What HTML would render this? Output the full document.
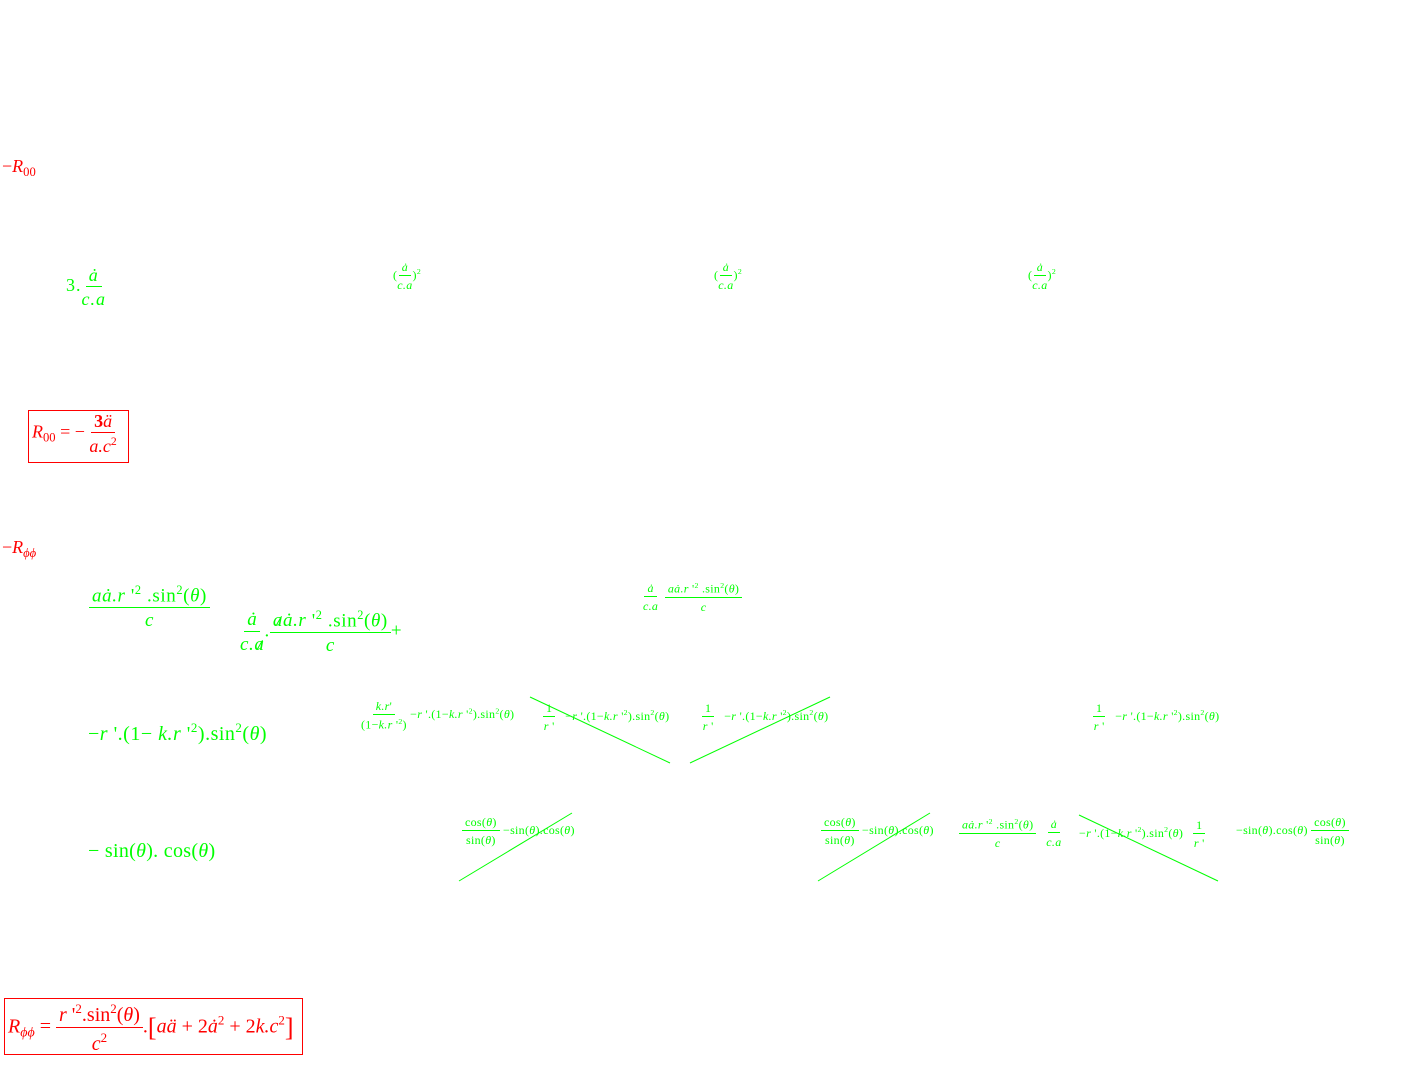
<!DOCTYPE html>
<html><head><meta charset="utf-8"><style>
body{margin:0;width:1421px;height:1083px;background:#fff;position:relative;overflow:hidden;font-family:"Liberation Serif",serif;}
.a{position:absolute;white-space:nowrap;line-height:1}
.g{color:#00ff00}.r{color:#ff0000}
.f{display:inline-flex;flex-direction:column;align-items:center;vertical-align:middle}
.f>span:first-child{border-bottom:1px solid;padding:0 3px 2px}
.f>span:last-child{padding-top:3px}
i{font-style:italic}
sup{font-size:65%;vertical-align:0.6em}
sub{font-size:70%;vertical-align:-0.3em}
.s{font-size:12px;letter-spacing:0.3px}
.box{position:absolute;border:1px solid #ff0000}
.x{position:relative;display:inline-block}
.x::after{content:"";position:absolute;left:1px;right:-1px;top:45%;border-top:1px solid #00ff00;transform:rotate(-60deg)}
</style></head><body>

<div class="a r" style="left:2px;top:157px;font-size:18px">−<i>R</i><sub>00</sub></div>

<div class="a g" style="left:66px;top:266px;font-size:18px;letter-spacing:1px">3.<span class="f"><span><i>ȧ</i></span><span><i>c.a</i></span></span></div>

<div class="a g s" style="left:393px;top:261px">(<span class="f"><span><i>ȧ</i></span><span><i>c.a</i></span></span>)<sup>2</sup></div>
<div class="a g s" style="left:714px;top:261px">(<span class="f"><span><i>ȧ</i></span><span><i>c.a</i></span></span>)<sup>2</sup></div>
<div class="a g s" style="left:1028px;top:261px">(<span class="f"><span><i>ȧ</i></span><span><i>c.a</i></span></span>)<sup>2</sup></div>

<div class="box" style="left:28px;top:410px;width:99px;height:51px"></div>
<div class="a r" style="left:32px;top:412px;font-size:18px"><i>R</i><sub>00</sub> = − <span class="f"><span><b>3</b><i>ä</i></span><span><i>a.c</i><sup>2</sup></span></span></div>

<div class="a r" style="left:2px;top:538px;font-size:18px">−<i>R</i><sub><i>ϕϕ</i></sub></div>

<div class="a g" style="left:89px;top:584px;font-size:19px;letter-spacing:0.6px"><span class="f"><span><i>aȧ.r</i> '<sup>2</sup> .sin<sup>2</sup>(<i>θ</i>)</span><span><i>c</i></span></span></div>

<div class="a g" style="left:240px;top:609px;font-size:19px;letter-spacing:0.6px"><span class="f"><span><i>ȧ</i></span><span><i>c.<span class="x">a</span></i></span></span>.<span class="f"><span><i><span class="x">a</span>ȧ.r</i> '<sup>2</sup> .sin<sup>2</sup>(<i>θ</i>)</span><span><i>c</i></span></span>+</div>

<div class="a g s" style="left:643px;top:582px"><span class="f"><span><i>ȧ</i></span><span><i>c.a</i></span></span> &nbsp;<span class="f"><span><i>aȧ.r</i> '<sup>2</sup> .sin<sup>2</sup>(<i>θ</i>)</span><span><i>c</i></span></span></div>

<div class="a g" style="left:88px;top:721px;font-size:20px;letter-spacing:0.5px">−<i>r</i> '.(1− <i>k.r</i> '<sup>2</sup>).sin<sup>2</sup>(<i>θ</i>)</div>

<div class="a g s" style="left:361px;top:700px"><span class="f"><span><i>k.r</i>'</span><span>(1−<i>k.r</i> '<sup>2</sup>)</span></span> −<i>r</i> '.(1−<i>k.r</i> '<sup>2</sup>).sin<sup>2</sup>(<i>θ</i>)</div>
<div class="a g s" style="left:543px;top:702px"><span class="f"><span>1</span><span><i>r</i> '</span></span> &nbsp;&nbsp;−<i>r</i> '.(1−<i>k.r</i> '<sup>2</sup>).sin<sup>2</sup>(<i>θ</i>)</div>
<div class="a g s" style="left:702px;top:702px"><span class="f"><span>1</span><span><i>r</i> '</span></span> &nbsp;&nbsp;−<i>r</i> '.(1−<i>k.r</i> '<sup>2</sup>).sin<sup>2</sup>(<i>θ</i>)</div>
<div class="a g s" style="left:1093px;top:702px"><span class="f"><span>1</span><span><i>r</i> '</span></span> &nbsp;&nbsp;−<i>r</i> '.(1−<i>k.r</i> '<sup>2</sup>).sin<sup>2</sup>(<i>θ</i>)</div>

<div class="a g" style="left:88px;top:841px;font-size:20px;letter-spacing:0.3px">− sin(<i>θ</i>). cos(<i>θ</i>)</div>

<div class="a g s" style="left:462px;top:816px"><span class="f"><span>cos(<i>θ</i>)</span><span>sin(<i>θ</i>)</span></span> −sin(<i>θ</i>).cos(<i>θ</i>)</div>
<div class="a g s" style="left:821px;top:816px"><span class="f"><span>cos(<i>θ</i>)</span><span>sin(<i>θ</i>)</span></span> −sin(<i>θ</i>).cos(<i>θ</i>)</div>
<div class="a g s" style="left:959px;top:818px"><span class="f"><span><i>aȧ.r</i> '<sup>2</sup> .sin<sup>2</sup>(<i>θ</i>)</span><span><i>c</i></span></span> &nbsp;&nbsp;<span class="f"><span><i>ȧ</i></span><span><i>c.a</i></span></span></div>
<div class="a g s" style="left:1079px;top:819px">−<i>r</i> '.(1−<i>k.r</i> '<sup>2</sup>).sin<sup>2</sup>(<i>θ</i>) &nbsp;&nbsp;<span class="f"><span>1</span><span><i>r</i> '</span></span></div>
<div class="a g s" style="left:1236px;top:816px">−sin(<i>θ</i>).cos(<i>θ</i>) <span class="f"><span>cos(<i>θ</i>)</span><span>sin(<i>θ</i>)</span></span></div>

<svg style="position:absolute;left:0;top:0" width="1421" height="1083">
<g stroke="#00ff00" stroke-width="1" fill="none">
<line x1="530" y1="697" x2="670" y2="763"/>
<line x1="690" y1="763" x2="830" y2="697"/>
<line x1="459" y1="881" x2="572" y2="813"/>
<line x1="818" y1="881" x2="930" y2="813"/>
<line x1="1079" y1="815" x2="1218" y2="881"/>
</g>
</svg>

<div class="box" style="left:4px;top:998px;width:297px;height:55px"></div>
<div class="a r" style="left:8px;top:1002px;font-size:20px"><i>R</i><sub><i>ϕϕ</i></sub> = <span class="f"><span><i>r</i> '<sup>2</sup>.sin<sup>2</sup>(<i>θ</i>)</span><span><i>c</i><sup>2</sup></span></span>.<span style="font-size:26px;vertical-align:middle">[</span><i>aä</i> + 2<i>ȧ</i><sup>2</sup> + 2<i>k.c</i><sup>2</sup><span style="font-size:26px;vertical-align:middle">]</span></div>

</body></html>
